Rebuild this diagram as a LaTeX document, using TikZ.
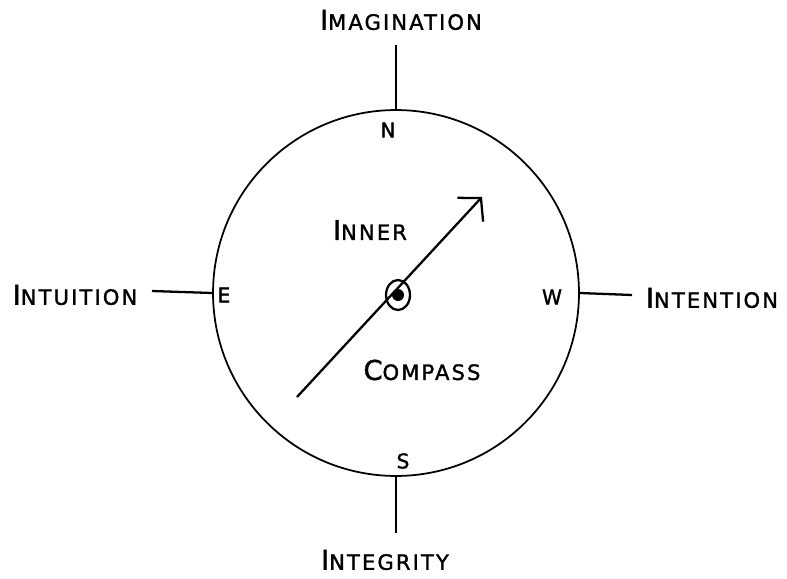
\documentclass[tikz,border=0pt]{standalone}
\usepackage{fontspec}
\usetikzlibrary{arrows.meta,shapes.geometric}
\newfontfamily\handfont[LetterSpace=10,FakeBold=1.5]{DejaVu Sans}
% big first letter, the rest in small capitals
\newcommand{\capword}[2]{{\fontsize{15.5}{15}\selectfont #1}{\fontsize{12}{12}\selectfont #2}}
\tikzset{
  word/.style={font=\handfont, inner sep=0pt},
  point/.style={font=\handfont\fontsize{11.5}{12}\selectfont, inner sep=0pt},
}
\begin{document}
\begin{tikzpicture}[x=0.02cm,y=-0.02cm,line width=1.3pt,
    >={Straight Barb[length=9pt,width=20pt,line width=1.3pt]}]
  \useasboundingbox (0,0) rectangle (787,578);
  % the dial
  \node[circle, draw, line width=1pt, minimum size=7.32cm, inner sep=0pt] (dial) at (396,293) {};
  \node[ellipse, draw, minimum width=0.48cm, minimum height=0.6cm, inner sep=0pt] (hub) at (398,295) {};
  \fill (hub.center) circle (6);
  % needle
  \coordinate (tail) at (297,397);
  \coordinate (tip) at (482,197);
  \draw[->] (tail) -- (tip);
  % the four ways
  \node[word] (imag) at (401,20) {\capword{I}{MAGINATION}};
  \node[word] (intu) at (75,295) {\capword{I}{NTUITION}};
  \node[word] (inte) at (712,298) {\capword{I}{NTENTION}};
  \node[word] (integ) at (385,560) {\capword{I}{NTEGRITY}};
  \coordinate (nend) at (396,45);
  \coordinate (eend) at (152,291);
  \coordinate (wend) at (632,295);
  \coordinate (send) at (396,533);
  \draw (dial.north) -- (nend);
  \draw (dial.west) -- (eend);
  \draw (dial.east) -- (wend);
  \draw (dial.south) -- (send);
  % points on the dial
  \node[point] (n) at (388,130) {N};
  \node[point] (e) at (224,295) {E};
  \node[point] (w) at (552,297) {W};
  \node[point] (s) at (403,461) {S};
  \node[word] (inner) at (370,230) {\capword{I}{NNER}};
  \node[word] (compass) at (422,370) {\capword{C}{OMPASS}};
\end{tikzpicture}
\end{document}
